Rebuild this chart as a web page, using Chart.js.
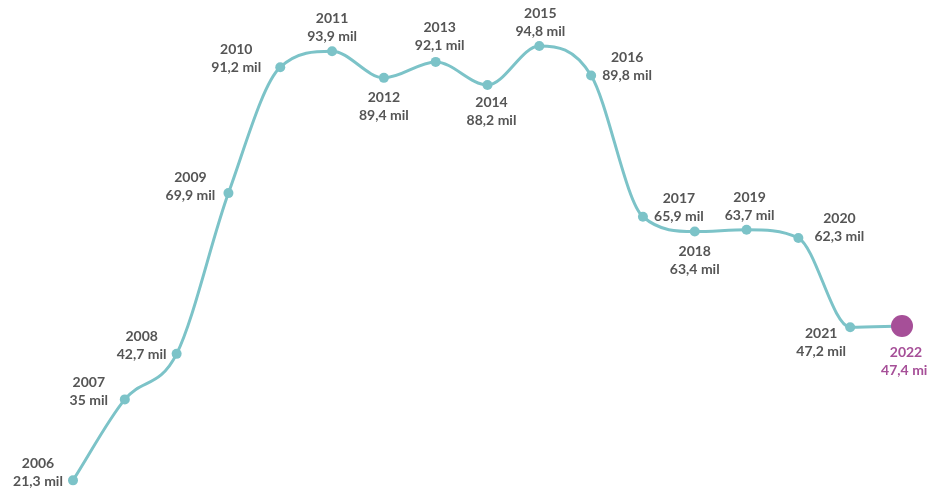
<!DOCTYPE html>
<html>
<head>
<meta charset="utf-8">
<script src="https://cdn.jsdelivr.net/npm/chart.js@4"></script>
<style>
  html, body { margin: 0; padding: 0; background: #fff; }
  #wrap { width: 927px; height: 490px; }
</style>
</head>
<body>
<div id="wrap"><canvas id="grafica"></canvas></div>
<script>
var colorLinea = "#7cc3c8";
var colorUltimo = "#a64f98";
var colorTexto = "#555555";

var anos = ['2006', '2007', '2008', '2009', '2010', '2011', '2012', '2013', '2014',
            '2015', '2016', '2017', '2018', '2019', '2020', '2021', '2022'];

var valores = [21.3, 35, 42.7, 69.9, 91.2, 93.9, 89.4, 92.1, 88.2,
               94.8, 89.8, 65.9, 63.4, 63.7, 62.3, 47.2, 47.4];

var etiquetas = ['21,3 mil', '35 mil', '42,7 mil', '69,9 mil', '91,2 mil', '93,9 mil', '89,4 mil',
                 '92,1 mil', '88,2 mil', '94,8 mil', '89,8 mil', '65,9 mil', '63,4 mil', '63,7 mil',
                 '62,3 mil', '47,2 mil', '47,4 mil'];

// desplazamiento de cada etiqueta respecto a su punto (x, y de la línea del año)
var posEtiquetas = [
    [-35, -17], [-36, -17], [-35, -17], [-38, -16], [-44, -18], [0, -33], [0, 20],
    [4, -34], [4, 18], [1, -32], [36, -18], [36, -18], [0, 20], [3, -32],
    [41, -20], [-29, 6], [4, 26]
];

var ultimo = valores.length - 1;

var etiquetasPlugin = {
    id: 'etiquetasPuntos',
    afterDatasetsDraw: function (chart) {
        var ctx = chart.ctx;
        var puntos = chart.getDatasetMeta(0).data;
        ctx.save();
        ctx.textAlign = 'center';
        ctx.textBaseline = 'middle';
        ctx.font = 'bold 14px Lato, "Open Sans", sans-serif';
        puntos.forEach(function (p, i) {
            var x = p.x + posEtiquetas[i][0];
            var y = p.y + posEtiquetas[i][1];
            ctx.fillStyle = i === ultimo ? colorUltimo : colorTexto;
            ctx.fillText(anos[i], x, y);
            ctx.fillText(etiquetas[i], x, y + 18);
        });
        ctx.restore();
    }
};

var configuracion = {
    type: 'line',
    data: {
        labels: anos,
        datasets: [{
            data: valores,
            borderColor: colorLinea,
            borderWidth: 3,
            cubicInterpolationMode: 'monotone',
            pointRadius: valores.map(function (v, i) { return i === ultimo ? 11 : 5; }),
            pointBackgroundColor: valores.map(function (v, i) { return i === ultimo ? colorUltimo : colorLinea; }),
            pointBorderWidth: 0,
            clip: false
        }]
    },
    options: {
        responsive: true,
        maintainAspectRatio: false,
        animation: false,
        layout: { padding: { left: 73, right: 25, top: 0, bottom: 0 } },
        plugins: { legend: { display: false }, tooltip: { enabled: false } },
        scales: {
            x: { display: false, offset: false },
            y: { display: false, min: 21.53, max: 100.71 }
        }
    },
    plugins: [etiquetasPlugin]
};

new Chart(document.getElementById('grafica'), configuracion);
</script>
</body>
</html>
